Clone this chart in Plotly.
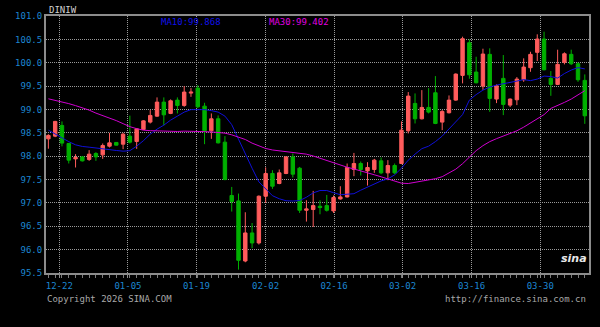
import plotly.graph_objects as go

# ---- data (US dollar index, daily candles) ----
opens = [98.371, 98.429, 98.658, 98.272, 97.942, 97.985, 97.93, 98.058, 98.028, 98.214,
         98.294, 98.257, 98.429, 98.315, 98.572, 98.729, 98.857, 99.157, 98.915, 99.2,
         99.086, 99.35, 99.457, 99.071, 98.543, 98.8, 98.3, 97.158, 97.043, 95.757,
         96.357, 96.143, 97.143, 97.63, 97.415, 97.63, 97.985, 97.743, 96.843, 96.858,
         96.929, 96.943, 96.828, 97.085, 97.128, 97.715, 97.843, 97.685, 97.715, 97.9,
         97.643, 97.8, 97.843, 98.543, 99.129, 98.8, 99.043, 99.357, 98.729, 98.929,
         99.2, 99.729, 100.428, 99.8, 99.5, 100.179, 99.222, 99.665, 99.093, 99.207,
         99.635, 99.893, 100.222, 100.507, 99.665, 99.536, 100.008, 100.179, 99.978, 99.622]
highs = [98.47, 98.756, 98.744, 98.285, 98.043, 98.0, 98.129, 98.086, 98.272, 98.5,
         98.3, 98.5, 98.868, 98.6, 98.77, 98.986, 99.258, 99.258, 99.215, 99.258,
         99.5, 99.457, 99.52, 99.143, 98.915, 98.872, 98.429, 97.342, 97.2, 96.8,
         96.57, 97.16, 97.76, 97.7, 97.715, 98.0, 98.058, 97.77, 97.057, 97.257,
         97.057, 97.17, 97.158, 97.357, 97.843, 98.07, 97.886, 97.872, 97.943, 97.972,
         97.915, 97.843, 98.744, 99.372, 99.343, 99.414, 99.457, 99.714, 98.986, 99.3,
         99.772, 100.557, 100.5, 100.128, 100.3, 100.308, 99.536, 100.164, 99.236, 99.693,
         100.094, 100.235, 100.608, 100.664, 99.821, 100.279, 100.222, 100.279, 100.008, 99.75]
lows = [98.16, 98.407, 98.21, 97.844, 97.758, 97.886, 97.9, 97.9, 97.942, 98.186,
        98.23, 98.15, 98.27, 98.157, 98.557, 98.7, 98.842, 98.658, 98.9, 98.915,
        99.057, 99.27, 99.03, 98.257, 98.371, 98.272, 97.486, 96.815, 95.572, 95.73,
        96.03, 96.11, 97.0, 97.3, 97.4, 97.615, 97.543, 96.785, 96.6, 96.485,
        96.757, 96.815, 96.785, 97.07, 97.115, 97.572, 97.586, 97.372, 97.643, 97.615,
        97.486, 97.615, 97.829, 98.486, 98.7, 98.786, 98.915, 98.686, 98.557, 98.915,
        99.186, 99.558, 99.657, 99.558, 99.42, 98.95, 99.136, 98.879, 99.05, 99.093,
        99.592, 99.806, 100.036, 99.836, 99.292, 99.522, 99.965, 99.95, 99.592, 98.692]
closes = [98.444, 98.744, 98.28, 97.915, 97.972, 97.9, 98.043, 97.985, 98.229, 98.285,
          98.236, 98.471, 98.3, 98.585, 98.756, 98.872, 99.157, 98.885, 99.185, 99.086,
          99.372, 99.37, 99.057, 98.543, 98.8, 98.285, 97.5, 97.03, 95.772, 96.357,
          96.143, 97.143, 97.63, 97.357, 97.643, 97.985, 97.615, 96.843, 96.872, 96.943,
          96.9, 96.843, 97.115, 97.128, 97.758, 97.843, 97.715, 97.758, 97.915, 97.643,
          97.8, 97.643, 98.557, 99.286, 98.8, 99.043, 98.943, 98.7, 98.958, 99.2,
          99.757, 100.514, 99.742, 99.571, 100.186, 99.236, 99.507, 99.108, 99.222, 99.65,
          99.907, 100.179, 100.507, 99.85, 99.536, 99.965, 100.192, 99.978, 99.635, 98.864]
ma10 = [98.557, 98.471, 98.397, 98.311, 98.243, 98.208, 98.193, 98.172, 98.161, 98.144,
        98.122, 98.107, 98.118, 98.214, 98.332, 98.471, 98.578, 98.664, 98.772, 98.857,
        98.943, 98.996, 99.0, 98.996, 98.975, 98.943, 98.857, 98.675, 98.364, 98.043,
        97.743, 97.45, 97.3, 97.154, 97.089, 97.046, 97.04, 97.05, 97.122, 97.214,
        97.265, 97.265, 97.218, 97.175, 97.186, 97.197, 97.272, 97.34, 97.415, 97.47,
        97.514, 97.6, 97.743, 97.915, 98.043, 98.161, 98.214, 98.311, 98.429, 98.578,
        98.729, 98.889, 99.2, 99.318, 99.414, 99.479, 99.522, 99.547, 99.579, 99.607,
        99.639, 99.617, 99.65, 99.714, 99.704, 99.672, 99.768, 99.843, 99.896, 99.868]
ma30 = [99.228, 99.196, 99.168, 99.125, 99.082, 99.039, 98.986, 98.922, 98.868, 98.825,
        98.761, 98.696, 98.632, 98.589, 98.557, 98.546, 98.54, 98.536, 98.525, 98.529,
        98.536, 98.536, 98.529, 98.525, 98.519, 98.507, 98.493, 98.457, 98.411, 98.357,
        98.279, 98.214, 98.165, 98.133, 98.118, 98.103, 98.088, 98.073, 98.043, 98.004,
        97.957, 97.904, 97.85, 97.8, 97.764, 97.726, 97.689, 97.646, 97.602, 97.559,
        97.514, 97.471, 97.422, 97.415, 97.443, 97.464, 97.486, 97.518, 97.561, 97.636,
        97.722, 97.839, 97.979, 98.118, 98.225, 98.311, 98.375, 98.429, 98.486, 98.543,
        98.621, 98.707, 98.793, 98.889, 99.022, 99.078, 99.151, 99.222, 99.307, 99.402]
date_labels = ["12-22", "01-05", "01-19", "02-02", "02-16", "03-02", "03-16", "03-30"]
y_ticks = [95.5, 96.0, 96.5, 97.0, 97.5, 98.0, 98.5, 99.0, 99.5, 100.0, 100.5, 101.0]

# ---- layout configuration ----
date_tick_pos = [1.61, 11.72, 21.81, 31.98, 42.07, 52.17, 62.33, 72.44]
x = list(range(len(closes)))
MONO = "DejaVu Sans Mono"
AXIS_BLUE = "#1c86d0"
UP = "#ff5c5c"
DOWN = "#00b000"
GRID = "#9a9a9a"

fig = go.Figure()
fig.add_trace(go.Candlestick(
    x=x, open=opens, high=highs, low=lows, close=closes,
    increasing=dict(line=dict(color=UP, width=1), fillcolor=UP),
    decreasing=dict(line=dict(color=DOWN, width=1), fillcolor=DOWN),
    whiskerwidth=0, showlegend=False, hoverinfo="skip"))
fig.add_trace(go.Scatter(x=x, y=ma10, mode="lines",
                         line=dict(color="#1010d8", width=1), showlegend=False, hoverinfo="skip"))
fig.add_trace(go.Scatter(x=x, y=ma30, mode="lines",
                         line=dict(color="#d000d0", width=1), showlegend=False, hoverinfo="skip"))

fig.update_layout(
    width=600, height=327,
    margin=dict(l=46, r=9, t=16, b=54),
    paper_bgcolor="black", plot_bgcolor="black",
    boxgap=0.28,
    xaxis=dict(
        range=[-0.352, 79.62], rangeslider=dict(visible=False),
        tickmode="array", tickvals=date_tick_pos, ticktext=date_labels,
        showgrid=True, gridcolor=GRID, griddash="1px,1px", gridwidth=1,
        zeroline=False, showline=True, linecolor="#8c8c8c", linewidth=2, mirror=True,
        ticks="outside", ticklen=3, tickcolor="#8c8c8c",
        minor=dict(tickmode="linear", tick0=0, dtick=1, ticks="outside",
                   ticklen=3, tickcolor="#7a7a7a", showgrid=False),
        tickfont=dict(family=MONO, size=9, color=AXIS_BLUE),
        fixedrange=True,
    ),
    yaxis=dict(
        range=[95.5, 101.0], tickmode="array", tickvals=y_ticks,
        ticktext=[f"{v:.1f}" for v in y_ticks],
        showgrid=True, gridcolor=GRID, griddash="1px,1px", gridwidth=1,
        zeroline=False, showline=True, linecolor="#8c8c8c", linewidth=2, mirror=True,
        ticks="", tickfont=dict(family=MONO, size=9, color=AXIS_BLUE),
        fixedrange=True,
    ),
    annotations=[
        dict(text="DINIW", xref="paper", yref="paper", x=0.0015, y=1.024,
             xanchor="left", yanchor="middle", showarrow=False,
             font=dict(family=MONO, size=9, color="#d0d0d0")),
        dict(text=f"MA10:{ma10[-1]:.3f}", xref="paper", yref="paper", x=0.2074, y=0.978,
             xanchor="left", yanchor="middle", showarrow=False,
             font=dict(family=MONO, size=9, color="#1010e8")),
        dict(text=f"MA30:{ma30[-1]:.3f}", xref="paper", yref="paper", x=0.4067, y=0.978,
             xanchor="left", yanchor="middle", showarrow=False,
             font=dict(family=MONO, size=9, color="#e000e0")),
        dict(text="Copyright 2026 SINA.COM", xref="paper", yref="paper", x=-0.0013, y=-0.1025,
             xanchor="left", yanchor="middle", showarrow=False,
             font=dict(family=MONO, size=9, color="#a8a8a8")),
        dict(text="http://finance.sina.com.cn", xref="paper", yref="paper", x=0.998, y=-0.1025,
             xanchor="right", yanchor="middle", showarrow=False,
             font=dict(family=MONO, size=9, color="#a8a8a8")),
        dict(text="<b><i>sina</i></b>", xref="paper", yref="paper", x=0.972, y=0.055,
             xanchor="center", yanchor="middle", showarrow=False,
             font=dict(family="DejaVu Sans", size=11, color="#e8e8e8")),
    ],
)

fig.write_html("out.html")
